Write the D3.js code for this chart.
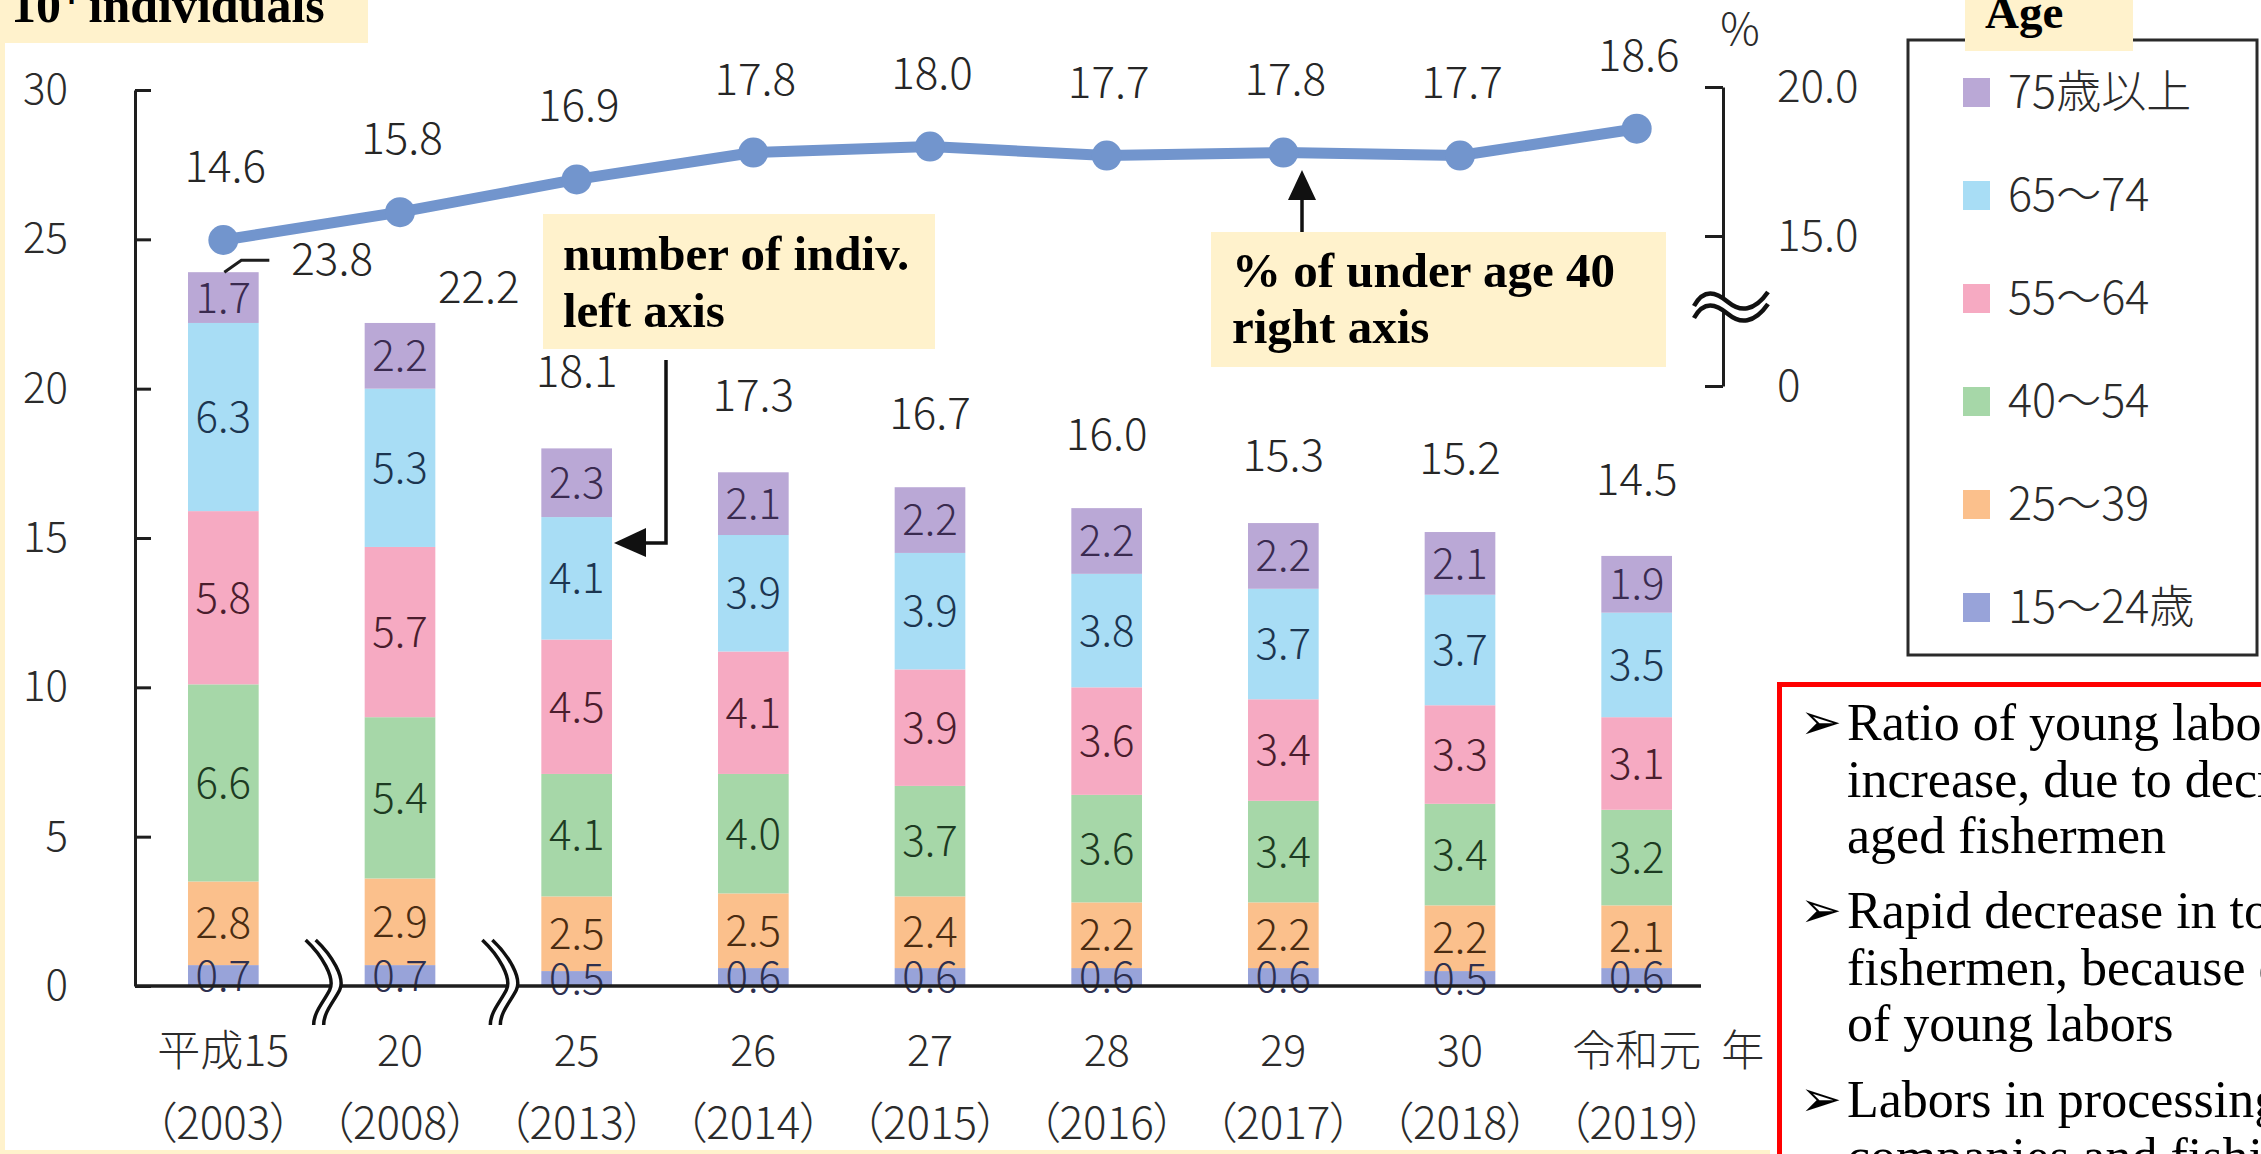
<!DOCTYPE html>
<html>
<head>
<meta charset="utf-8">
<script src="https://cdn.jsdelivr.net/npm/d3@7"></script>
<style>
  html, body { margin: 0; padding: 0; background: #ffffff; }
  svg { display: block; }
  .cjk { font-family: "Noto Sans CJK JP", "Noto Sans", sans-serif; font-weight: 300; }
  .serif { font-family: "Liberation Serif", "DejaVu Serif", serif; }
</style>
</head>
<body>
<script>
// ---------------- DATA ----------------
const categories = ["平成15", "20", "25", "26", "27", "28", "29", "30", "令和元"];
const yearsAD = ["（2003）", "（2008）", "（2013）", "（2014）", "（2015）", "（2016）", "（2017）", "（2018）", "（2019）"];
const ageGroups = ["15～24歳", "25～39", "40～54", "55～64", "65～74", "75歳以上"];
const age15_24 = [0.7, 0.7, 0.5, 0.6, 0.6, 0.6, 0.6, 0.5, 0.6];
const age25_39 = [2.8, 2.9, 2.5, 2.5, 2.4, 2.2, 2.2, 2.2, 2.1];
const age40_54 = [6.6, 5.4, 4.1, 4.0, 3.7, 3.6, 3.4, 3.4, 3.2];
const age55_64 = [5.8, 5.7, 4.5, 4.1, 3.9, 3.6, 3.4, 3.3, 3.1];
const age65_74 = [6.3, 5.3, 4.1, 3.9, 3.9, 3.8, 3.7, 3.7, 3.5];
const age75plus = [1.7, 2.2, 2.3, 2.1, 2.2, 2.2, 2.2, 2.1, 1.9];
const totals = [23.8, 22.2, 18.1, 17.3, 16.7, 16.0, 15.3, 15.2, 14.5];
const under40Pct = [14.6, 15.8, 16.9, 17.8, 18.0, 17.7, 17.8, 17.7, 18.6];
const leftTicks = [0, 5, 10, 15, 20, 25, 30];
const rightTicks = [0, 15, 20];
const rightTickLabels = ["0", "15.0", "20.0"];
const legendOrder = ["75歳以上", "65～74", "55～64", "40～54", "25～39", "15～24歳"];
const bulletLines = [
  ["Ratio of young labors slightly", "increase, due to decrease of", "aged fishermen"],
  ["Rapid decrease in total", "fishermen, because of lack", "of young labors"],
  ["Labors in processing", "companies and fishing"]
];

// ---------------- STYLE ----------------
const segColors = ["#98a3d9", "#fbc08c", "#a6d7a8", "#f6aac2", "#a8ddf5", "#baa8d6"];
const segText = ["#2e3050", "#4a2c12", "#1d3b22", "#4a1d2d", "#1c3550", "#3a2b50"];
const lineColor = "#7295cd";
const cream = "#fff2cc";

const W = 2261, H = 1154;
const svg = d3.select("body").append("svg").attr("width", W).attr("height", H);
svg.append("rect").attr("width", W).attr("height", H).attr("fill", "#fff");

const series = [age15_24, age25_39, age40_54, age55_64, age65_74, age75plus];
const table = categories.map((c, i) => {
  const o = { cat: c };
  ageGroups.forEach((g, k) => o[g] = series[k][i]);
  return o;
});
const stacked = d3.stack().keys(ageGroups)(table);

const x = d3.scaleBand().domain(categories).range([135, 1725]).paddingInner(0.6).paddingOuter(0.3);
const cx = c => x(c) + x.bandwidth() / 2;
const y = d3.scaleLinear().domain([0, 30]).range([986, 90]);
const yR = d3.scaleLinear().domain([0, 15, 20]).range([386, 236, 87]);
const colorOf = d3.scaleOrdinal().domain(ageGroups).range(segColors);
const textOf = d3.scaleOrdinal().domain(ageGroups).range(segText);

// cream edges of the slide
svg.append("rect").attr("x", 0).attr("y", 0).attr("width", 5).attr("height", H).attr("fill", cream);
svg.append("rect").attr("x", 0).attr("y", 1150).attr("width", 1770).attr("height", 4).attr("fill", cream);

// ---------------- BARS ----------------
const layers = svg.append("g").selectAll("g").data(stacked).join("g")
  .attr("fill", d => colorOf(d.key));
layers.selectAll("rect").data(d => d).join("rect")
  .attr("x", d => x(d.data.cat))
  .attr("width", x.bandwidth())
  .attr("y", d => y(d[1]))
  .attr("height", d => y(d[0]) - y(d[1]));

// segment labels
const segLabels = svg.append("g").attr("class", "cjk").attr("font-size", 42).attr("text-anchor", "middle");
stacked.forEach(layer => {
  segLabels.selectAll(null).data(layer).join("text")
    .attr("x", d => cx(d.data.cat))
    .attr("y", d => (y(d[0]) + y(d[1])) / 2)
    .attr("dy", "0.36em")
    .attr("fill", textOf(layer.key))
    .text(d => (d[1] - d[0]).toFixed(1));
});

// ---------------- LEFT AXIS ----------------
const gL = svg.append("g").attr("class", "cjk").attr("transform", "translate(135,0)")
  .call(d3.axisLeft(y).tickValues(leftTicks).tickSizeInner(-16).tickSizeOuter(0).tickPadding(67).tickFormat(d3.format("d")));
gL.selectAll("path, line").attr("stroke", "#1e1e1e").attr("stroke-width", 3);
gL.selectAll("text").attr("font-size", 42).attr("fill", "#2b2b2b");

// ---------------- RIGHT AXIS ----------------
const gR = svg.append("g").attr("class", "cjk").attr("transform", "translate(1723,0)")
  .call(d3.axisRight(yR).tickValues(rightTicks).tickSizeInner(-18).tickSizeOuter(0).tickPadding(54)
    .tickFormat((d, i) => rightTickLabels[i]));
gR.selectAll("path, line").attr("stroke", "#1e1e1e").attr("stroke-width", 3);
gR.selectAll("text").attr("font-size", 44).attr("fill", "#2b2b2b");
gL.attr("font-family", null); gR.attr("font-family", null);
svg.append("text").attr("class", "cjk").attr("x", 1740).attr("y", 45).attr("text-anchor", "middle")
  .attr("font-size", 44).attr("fill", "#2b2b2b").text("%");

// right axis break
{
  const by = 306, bx = 1730;
  const mid = `M${bx - 36},${by + 6} C${bx - 26},${by - 12} ${bx - 14},${by - 8} ${bx - 2},${by + 2} S${bx + 24},${by + 12} ${bx + 38},${by - 8}`;
  svg.append("path").attr("d", mid).attr("fill", "none").attr("stroke", "#fff").attr("stroke-width", 10);
  [-6, 6].forEach(o => {
    svg.append("path").attr("d", mid).attr("transform", `translate(0,${o})`)
      .attr("fill", "none").attr("stroke", "#111").attr("stroke-width", 4.5);
  });
}

// ---------------- X AXIS ----------------
svg.append("line").attr("x1", 135).attr("x2", 1701).attr("y1", y(0)).attr("y2", y(0))
  .attr("stroke", "#1e1e1e").attr("stroke-width", 3.5);

// x-axis breaks between the first three bars
[0, 1].forEach(i => {
  const bx = (cx(categories[i]) + cx(categories[i + 1])) / 2 + 13;
  const mid = `M${bx - 14},940 C${bx + 2},955 ${bx + 16},978 ${bx + 10},990 S${bx - 6},1012 ${bx - 6},1025`;
  svg.append("path").attr("d", mid).attr("fill", "none").attr("stroke", "#fff").attr("stroke-width", 9);
  [-5, 5].forEach(o => {
    svg.append("path").attr("d", mid).attr("transform", `translate(${o},0)`)
      .attr("fill", "none").attr("stroke", "#111").attr("stroke-width", 3.5);
  });
});

// category labels
const xl = svg.append("g").attr("class", "cjk").attr("font-size", 43).attr("fill", "#2b2b2b").attr("text-anchor", "middle");
xl.selectAll(null).data(categories).join("text")
  .attr("x", d => cx(d)).attr("y", 1066).text(d => d);
xl.append("text").attr("x", cx(categories[8]) + 106).attr("y", 1066).text("年");
xl.selectAll(null).data(yearsAD).join("text")
  .attr("x", (d, i) => cx(categories[i])).attr("y", 1139).attr("font-size", 44)
  .style("font-feature-settings", "'palt' 1").text(d => d);

// total labels
const tl = svg.append("g").attr("class", "cjk").attr("font-size", 44).attr("fill", "#262626");
totals.forEach((t, i) => {
  const c = cx(categories[i]);
  const top = y(t);
  if (i === 0) {
    svg.append("path").attr("d", `M${c + 1},${top - 3} L${c + 18},${top - 15} L${c + 46},${top - 15}`)
      .attr("fill", "none").attr("stroke", "#1e1e1e").attr("stroke-width", 3);
    tl.append("text").attr("x", c + 68).attr("y", top).text(t.toFixed(1));
  } else if (i === 1) {
    tl.append("text").attr("x", c + 38).attr("y", top - 20).text(t.toFixed(1));
  } else {
    tl.append("text").attr("x", c).attr("y", top - 58).attr("text-anchor", "middle").text(t.toFixed(1));
  }
});

// ---------------- LINE ----------------
const line = d3.line().x((d, i) => cx(categories[i])).y(d => yR(d));
svg.append("path").datum(under40Pct).attr("d", line)
  .attr("fill", "none").attr("stroke", lineColor).attr("stroke-width", 11).attr("stroke-linejoin", "round");
svg.append("g").selectAll("circle").data(under40Pct).join("circle")
  .attr("cx", (d, i) => cx(categories[i])).attr("cy", d => yR(d)).attr("r", 15).attr("fill", lineColor);
svg.append("g").attr("class", "cjk").attr("font-size", 44).attr("fill", "#262626").attr("text-anchor", "middle")
  .selectAll("text").data(under40Pct).join("text")
  .attr("x", (d, i) => cx(categories[i]) + 2).attr("y", d => yR(d) - 58).text(d => d.toFixed(1));

// ---------------- ANNOTATIONS ----------------
// top-left unit box
svg.append("rect").attr("x", 0).attr("y", 0).attr("width", 368).attr("height", 43).attr("fill", cream);
const unit = svg.append("text").attr("class", "serif").attr("x", 11).attr("y", 22)
  .attr("font-size", 50).attr("font-weight", "bold").attr("fill", "#000");
unit.append("tspan").text("10");
unit.append("tspan").attr("font-size", 30).attr("dy", -18).text("4");
unit.append("tspan").attr("dy", 18).text(" individuals");

// "number of indiv." box
svg.append("rect").attr("x", 543).attr("y", 214).attr("width", 392).attr("height", 135).attr("fill", cream);
const a1 = svg.append("text").attr("class", "serif").attr("font-size", 49).attr("font-weight", "bold").attr("fill", "#000");
a1.append("tspan").attr("x", 563).attr("y", 270).text("number of indiv.");
a1.append("tspan").attr("x", 563).attr("y", 327).text("left axis");
svg.append("path").attr("d", "M666,360 V543 H640").attr("fill", "none").attr("stroke", "#111").attr("stroke-width", 3.5);
svg.append("path").attr("d", "M614,543 L646,528 L646,557 Z").attr("fill", "#111");

// "% of under age 40" box
svg.append("rect").attr("x", 1211).attr("y", 232).attr("width", 455).attr("height", 135).attr("fill", cream);
const a2 = svg.append("text").attr("class", "serif").attr("font-size", 49).attr("font-weight", "bold").attr("fill", "#000");
a2.append("tspan").attr("x", 1232).attr("y", 287).text("% of under age 40");
a2.append("tspan").attr("x", 1232).attr("y", 343).text("right axis");
svg.append("line").attr("x1", 1302).attr("x2", 1302).attr("y1", 232).attr("y2", 196).attr("stroke", "#111").attr("stroke-width", 3.5);
svg.append("path").attr("d", "M1302,170 L1288,200 L1316,200 Z").attr("fill", "#111");

// ---------------- LEGEND ----------------
svg.append("rect").attr("x", 1908).attr("y", 40).attr("width", 349).attr("height", 615)
  .attr("fill", "none").attr("stroke", "#2a2a2a").attr("stroke-width", 3);
svg.append("rect").attr("x", 1965).attr("y", 0).attr("width", 168).attr("height", 51).attr("fill", cream);
svg.append("text").attr("class", "serif").attr("x", 1985).attr("y", 28).attr("font-size", 47)
  .attr("font-weight", "bold").attr("fill", "#000").text("Age");
const leg = svg.append("g").attr("class", "cjk");
const legY = d3.scalePoint().domain(legendOrder).range([92, 607]);
leg.selectAll("rect").data(legendOrder).join("rect")
  .attr("x", 1963).attr("y", d => legY(d) - 14).attr("width", 27).attr("height", 29)
  .attr("fill", d => colorOf(d));
leg.selectAll("text").data(legendOrder).join("text")
  .attr("x", 2008).attr("y", d => legY(d)).attr("dy", "0.36em")
  .attr("font-size", 45).attr("fill", "#2b2b2b").text(d => d);

// ---------------- RED NOTE BOX ----------------
svg.append("rect").attr("x", 1779.5).attr("y", 684.5).attr("width", 600).attr("height", 600)
  .attr("fill", "#fff").attr("stroke", "#ff0000").attr("stroke-width", 5);
const noteBase = [740, 928, 1117];
bulletLines.forEach((lines, b) => {
  svg.append("text").attr("x", 1800).attr("y", noteBase[b] - 1)
    .attr("font-family", "DejaVu Sans").attr("font-size", 50).attr("fill", "#000").text("➢");
  const t = svg.append("text").attr("class", "serif").attr("font-size", 52).attr("fill", "#000");
  lines.forEach((s, k) => t.append("tspan").attr("x", 1847).attr("y", noteBase[b] + k * 56.7).text(s));
});
</script>
</body>
</html>
